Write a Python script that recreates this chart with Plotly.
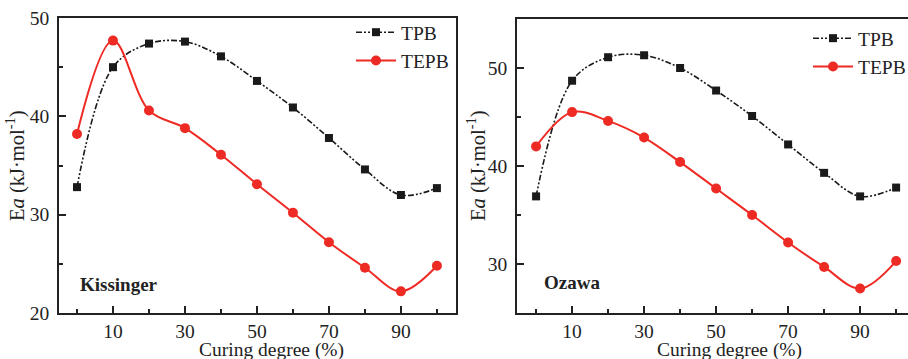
import plotly.graph_objects as go

curing = [0, 10, 20, 30, 40, 50, 60, 70, 80, 90, 100]
kis_tpb = [32.8, 45.0, 47.4, 47.6, 46.1, 43.6, 40.9, 37.8, 34.6, 32.0, 32.7]
kis_tepb = [38.2, 47.7, 40.6, 38.8, 36.1, 33.1, 30.2, 27.2, 24.6, 22.2, 24.8]
oza_tpb = [36.9, 48.7, 51.1, 51.3, 50.0, 47.7, 45.1, 42.2, 39.3, 36.9, 37.8]
oza_tepb = [42.0, 45.5, 44.6, 42.9, 40.4, 37.7, 35.0, 32.2, 29.7, 27.5, 30.3]
x_tick_vals = [10, 30, 50, 70, 90]
kis_y_ticks = [20, 30, 40, 50]
oza_y_ticks = [30, 40, 50]

FONT = "Liberation Serif"
RED = "#EE2A24"
BLACK = "#1a1a1a"
DASH = "6px,2px,2px,2px,2px,2px"

fig = go.Figure()

def add_pair(tpb, tepb, xa, ya, legend):
    fig.add_trace(go.Scatter(
        x=curing, y=tpb, name="TPB", mode="lines+markers",
        line=dict(color=BLACK, width=1.6, dash=DASH, shape="spline", smoothing=1.0),
        marker=dict(symbol="square", size=8, color=BLACK),
        xaxis=xa, yaxis=ya, legend=legend, cliponaxis=False))
    fig.add_trace(go.Scatter(
        x=curing, y=tepb, name="TEPB", mode="lines+markers",
        line=dict(color=RED, width=2, shape="spline", smoothing=1.0),
        marker=dict(symbol="circle", size=10, color=RED),
        xaxis=xa, yaxis=ya, legend=legend, cliponaxis=False))

add_pair(kis_tpb, kis_tepb, "x", "y", "legend")
add_pair(oza_tpb, oza_tepb, "x2", "y2", "legend2")

axis_common = dict(
    showline=True, linecolor="#222", linewidth=1.5,
    ticks="inside", ticklen=7, tickwidth=1.5, tickcolor="#222",
    showgrid=False, zeroline=False, automargin=False,
    tickfont=dict(family=FONT, size=19.5, color="#222"),
)

W, H = 908, 359
xd1 = [59 / W, 456 / W]
xd2 = [517 / W, 1.0]
yd = [(H - 313) / H, (H - 18) / H]

fig.update_layout(
    width=W, height=H,
    margin=dict(l=0, r=0, t=0, b=0, autoexpand=False),
    paper_bgcolor="white", plot_bgcolor="white",
    showlegend=True,
    xaxis=dict(domain=xd1, range=[-5, 105.3], tickmode="array", tickvals=x_tick_vals,
               minor=dict(dtick=10, tick0=0, ticks="inside", ticklen=4, tickwidth=1.5, tickcolor="#222"),
               mirror=True, anchor="y", **axis_common),
    yaxis=dict(domain=yd, range=[20, 50], tickmode="array", tickvals=kis_y_ticks,
               minor=dict(dtick=5, tick0=0, ticks="inside", ticklen=4, tickwidth=1.5, tickcolor="#222"),
               mirror=True, anchor="x", ticklabelstandoff=4, **axis_common),
    xaxis2=dict(domain=xd2, range=[-5.3, 103.3], tickmode="array", tickvals=x_tick_vals,
                minor=dict(dtick=10, tick0=0, ticks="inside", ticklen=4, tickwidth=1.5, tickcolor="#222"),
                mirror=True, anchor="y2", **axis_common),
    yaxis2=dict(domain=[(H - 313) / H, (H - 19) / H], range=[25, 55], tickmode="array", tickvals=oza_y_ticks,
                minor=dict(dtick=5, tick0=0, ticks="inside", ticklen=4, tickwidth=1.5, tickcolor="#222"),
                mirror=False, anchor="x2", ticklabelstandoff=4, **axis_common),
    legend=dict(x=351 / W, y=1 - 13 / H, xanchor="left", yanchor="top",
                bgcolor="rgba(0,0,0,0)", font=dict(family=FONT, size=19.5, color="#222"),
                tracegroupgap=0, itemwidth=40),
    legend2=dict(x=808 / W, y=1 - 19 / H, xanchor="left", yanchor="top",
                 bgcolor="rgba(0,0,0,0)", font=dict(family=FONT, size=19.5, color="#222"),
                 tracegroupgap=0, itemwidth=40),
)

annots = [
    dict(text="Kissinger", x=78 / W, y=1 - 284 / H, xanchor="left", yanchor="middle",
         font=dict(family=FONT, size=19, color="#222", weight="bold")),
    dict(text="Ozawa", x=542 / W, y=1 - 282 / H, xanchor="left", yanchor="middle",
         font=dict(family=FONT, size=19, color="#222", weight="bold")),
    dict(text="Curing degree (%)", x=271 / W, y=1 - 350 / H, xanchor="center", yanchor="middle",
         font=dict(family=FONT, size=19.5, color="#222")),
    dict(text="Curing degree (%)", x=729 / W, y=1 - 350 / H, xanchor="center", yanchor="middle",
         font=dict(family=FONT, size=19.5, color="#222")),
    dict(text="E<i>a</i> (kJ·mol<sup>-1</sup>)", x=15 / W, y=1 - 166 / H, textangle=-90,
         xanchor="center", yanchor="middle", font=dict(family=FONT, size=20.5, color="#222")),
    dict(text="E<i>a</i> (kJ·mol<sup>-1</sup>)", x=476 / W, y=1 - 166 / H, textangle=-90,
         xanchor="center", yanchor="middle", font=dict(family=FONT, size=20.5, color="#222")),
]
for a in annots:
    a.update(xref="paper", yref="paper", showarrow=False)
    fig.add_annotation(**a)

fig.write_html("out.html", config={"displayModeBar": False},
               post_script="document.body.style.margin='0';document.body.style.overflow='hidden';")
